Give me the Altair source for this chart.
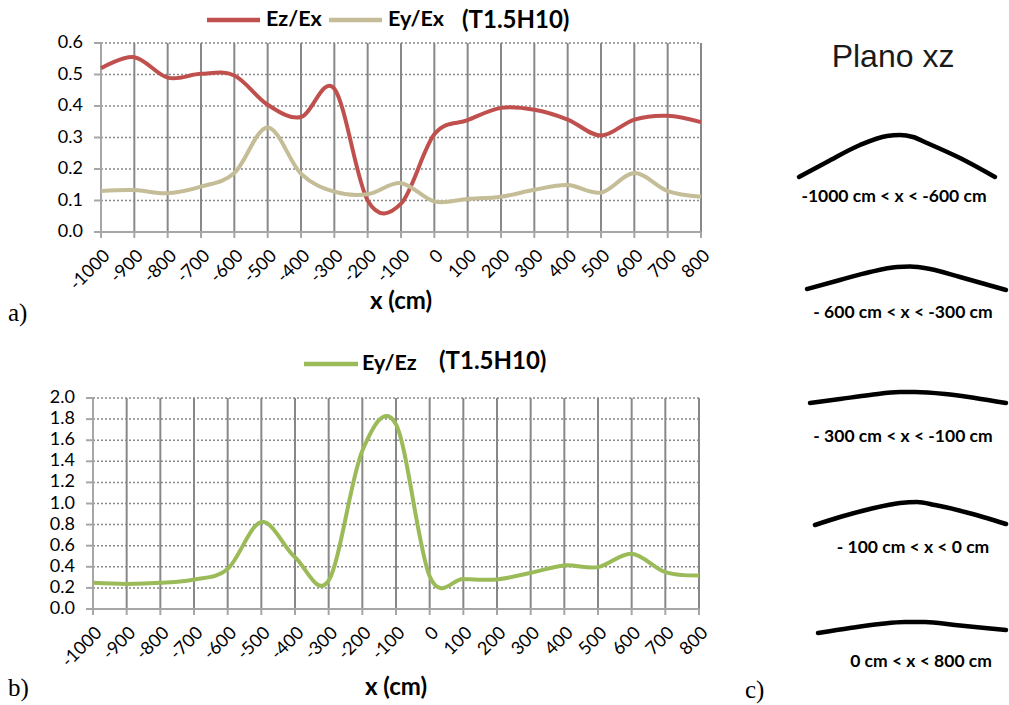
import altair as alt
import pandas as pd

# ---- field ratios along x (cm) ----
x_cm = [-1000, -900, -800, -700, -600, -500, -400, -300, -200, -100,
        0, 100, 200, 300, 400, 500, 600, 700, 800]
ez_ex = [0.52, 0.555, 0.49, 0.502, 0.497, 0.404, 0.365, 0.455, 0.10, 0.09,
         0.31, 0.355, 0.394, 0.388, 0.357, 0.306, 0.357, 0.369, 0.349]
ey_ex = [0.13, 0.133, 0.123, 0.144, 0.187, 0.332, 0.185, 0.128, 0.12, 0.155,
         0.097, 0.105, 0.112, 0.134, 0.149, 0.125, 0.187, 0.13, 0.112]
ey_ez = [0.248, 0.238, 0.248, 0.28, 0.38, 0.825, 0.49, 0.27, 1.5, 1.75,
         0.31, 0.285, 0.28, 0.343, 0.413, 0.397, 0.524, 0.35, 0.317]

series_a = ["Ez/Ex", "Ey/Ex"]
colors_a = ["#C0504D", "#C4BD97"]
series_b = ["Ey/Ez"]
colors_b = ["#9BBB59"]
ticks_a = [0.0, 0.1, 0.2, 0.3, 0.4, 0.5, 0.6]
ticks_b = [0.0, 0.2, 0.4, 0.6, 0.8, 1.0, 1.2, 1.4, 1.6, 1.8, 2.0]
case_tag = "(T1.5H10)"
x_title = "x (cm)"

# ---- "Plano xz" sketch: wire profile per x range (drawing units) ----
plane_title = "Plano xz"
arc_labels = ["-1000 cm < x < -600 cm", "- 600 cm < x < -300 cm",
              "- 300 cm < x < -100 cm", "- 100 cm < x < 0 cm",
              "0 cm < x < 800 cm"]
arc_u = [
    [54, 82, 115, 142, 155, 168, 182, 215, 250],
    [62, 95, 125, 152, 165, 185, 215, 261],
    [65, 95, 125, 155, 170, 200, 230, 261],
    [70, 95, 125, 155, 172, 190, 220, 261],
    [73, 105, 135, 160, 180, 210, 240, 261],
]
arc_v = [
    [134, 119, 102, 93, 92, 94, 100, 115, 134],
    [246, 237, 229, 224, 223.5, 226, 234, 247],
    [360, 356, 352, 349, 349, 351, 355, 360],
    [482, 474, 466, 460, 459, 462, 469, 481],
    [590, 585, 581, 579, 579, 582, 585, 587],
]
label_u = [149, 158, 158, 168, 176]
label_v = [154, 270, 394, 505, 619]

FONT = "Lato"
GRID = "#888888"
AXIS = "#a6a6a6"
W, H = 1009, 705

# pixel frames of the three panels on the page
A_X, A_Y = [101, 701], [232, 43]
B_X, B_Y = [93, 699], [609, 398]
C_X, C_Y = [745, 1007], [43, 698]


def tag(text, px, py, size=24, font=FONT, weight="bold", align="left"):
    return alt.Chart(pd.DataFrame({"t": [text]})).mark_text(
        align=align, baseline="middle", font=font, fontSize=size,
        fontWeight=weight, color="black").encode(
        x=alt.value(px), y=alt.value(py), text="t:N")


def swatch(color, x0, x1, py):
    return alt.Chart(pd.DataFrame({"s": [0]})).mark_rule(
        color=color, strokeWidth=4.5).encode(
        x=alt.value(x0), x2=alt.value(x1), y=alt.value(py))


def panel(df, series, colors, ticks, ymax, px, py):
    """Grid, axes (ticks, labels, lines) and data curves of one ratio plot."""
    xs = alt.Scale(domain=[-1000, 800], range=px, nice=False)
    ys = alt.Scale(domain=[0, ymax], range=py, nice=False)
    left, bottom = px[0], py[0]

    xbase = alt.Chart(pd.DataFrame({"x": x_cm, "lab": [str(v) for v in x_cm]}))
    ybase = alt.Chart(pd.DataFrame({"tick": ticks}))
    one = alt.Chart(pd.DataFrame({"s": [0]}))

    vgrid = xbase.mark_rule(color=GRID, strokeWidth=2).encode(
        x=alt.X("x:Q", scale=xs, axis=None),
        y=alt.Y(datum=0, scale=ys, axis=None), y2=alt.Y2(datum=ymax))
    hgrid = ybase.mark_rule(color=GRID, strokeWidth=1.5, strokeDash=[2, 2]).encode(
        y=alt.Y("tick:Q", scale=ys, axis=None),
        x=alt.X(datum=-1000, scale=xs, axis=None), x2=alt.X2(datum=800))
    xdomain = one.mark_rule(color=AXIS, strokeWidth=2).encode(
        x=alt.X(datum=-1000, scale=xs, axis=None), x2=alt.X2(datum=800),
        y=alt.Y(datum=0, scale=ys, axis=None))
    ydomain = one.mark_rule(color=AXIS, strokeWidth=2).encode(
        x=alt.X(datum=-1000, scale=xs, axis=None),
        y=alt.Y(datum=0, scale=ys, axis=None), y2=alt.Y2(datum=ymax))
    xticks = xbase.mark_rule(color=AXIS, strokeWidth=2).encode(
        x=alt.X("x:Q", scale=xs, axis=None),
        y=alt.value(bottom), y2=alt.value(bottom + 6))
    yticks = ybase.mark_rule(color=AXIS, strokeWidth=2).encode(
        y=alt.Y("tick:Q", scale=ys, axis=None),
        x=alt.value(left - 7), x2=alt.value(left))
    xlabels = xbase.mark_text(angle=315, align="right", baseline="top", font=FONT,
                              fontSize=18, color="black").encode(
        x=alt.X("x:Q", scale=xs, axis=None), y=alt.value(bottom + 15), text="lab:N")
    ylabels = ybase.mark_text(align="right", baseline="middle", font=FONT,
                              fontSize=18, color="black").encode(
        y=alt.Y("tick:Q", scale=ys, axis=None), x=alt.value(left - 18),
        text=alt.Text("tick:Q", format=".1f"))
    lines = alt.Chart(df).mark_line(interpolate="cardinal", strokeWidth=4).encode(
        x=alt.X("x:Q", scale=xs, axis=None),
        y=alt.Y("value:Q", scale=ys, axis=None),
        color=alt.Color("serie:N", scale=alt.Scale(domain=series, range=colors),
                        legend=None))
    return [vgrid, hgrid, xdomain, ydomain, xticks, yticks, xlabels, ylabels, lines]


# ---- panel a ----
df_a = pd.DataFrame({
    "x": x_cm + x_cm,
    "value": ez_ex + ey_ex,
    "serie": [series_a[0]] * len(x_cm) + [series_a[1]] * len(x_cm),
})
layer_a = alt.layer(
    *panel(df_a, series_a, colors_a, ticks_a, 0.6, A_X, A_Y),
    tag(x_title, (A_X[0] + A_X[1]) / 2, 302, align="center"),
    swatch(colors_a[0], 207, 260, 20),
    tag(series_a[0], 266, 20, size=21.5),
    swatch(colors_a[1], 329, 382, 20),
    tag(series_a[1], 388, 20, size=21.5),
    tag(case_tag, 462, 21),
    tag("a)", 8, 313, size=25, font="Liberation Serif", weight="normal"),
)

# ---- panel b ----
df_b = pd.DataFrame({"x": x_cm, "value": ey_ez, "serie": series_b * len(x_cm)})
layer_b = alt.layer(
    *panel(df_b, series_b, colors_b, ticks_b, 2.0, B_X, B_Y),
    tag(x_title, (B_X[0] + B_X[1]) / 2, 688, align="center"),
    swatch(colors_b[0], 304, 358, 364),
    tag(series_b[0], 362, 364, size=21.5),
    tag(case_tag, 439, 362),
    tag("b)", 8, 688, size=25, font="Liberation Serif", weight="normal"),
)

# ---- panel c: wire shape sketch ----
rows = []
for i, (us, vs) in enumerate(zip(arc_u, arc_v)):
    for k, (u, v) in enumerate(zip(us, vs)):
        rows.append({"arc": i, "k": k, "u": u, "v": v})
df_arcs = pd.DataFrame(rows)
cx = alt.Scale(domain=[0, 262], range=C_X, nice=False, zero=False)
cy = alt.Scale(domain=[0, 655], range=C_Y, nice=False, zero=False)

arcs = alt.Chart(df_arcs).mark_line(color="black", strokeWidth=4.5, interpolate="monotone",
                                     strokeCap="round").encode(
    x=alt.X("u:Q", scale=cx, axis=None),
    y=alt.Y("v:Q", scale=cy, axis=None),
    detail="arc:N", order="k:Q")
labels = alt.Chart(pd.DataFrame({"u": label_u, "v": label_v, "t": arc_labels})).mark_text(
    font=FONT, fontSize=17.5, fontWeight="bold", color="black", baseline="middle").encode(
    x=alt.X("u:Q", scale=cx, axis=None), y=alt.Y("v:Q", scale=cy, axis=None), text="t:N")
heading = alt.Chart(pd.DataFrame({"u": [148], "v": [14], "t": [plane_title]})).mark_text(
    font="Liberation Sans", fontSize=32, color="#1a1a1a", baseline="middle").encode(
    x=alt.X("u:Q", scale=cx, axis=None), y=alt.Y("v:Q", scale=cy, axis=None), text="t:N")
c_tag = alt.Chart(pd.DataFrame({"u": [0], "v": [647], "t": ["c)"]})).mark_text(
    font="Liberation Serif", fontSize=25, color="black", align="left", baseline="middle").encode(
    x=alt.X("u:Q", scale=cx, axis=None), y=alt.Y("v:Q", scale=cy, axis=None), text="t:N")
layer_c = alt.layer(arcs, labels, heading, c_tag)

chart = alt.layer(layer_a, layer_b, layer_c).resolve_scale(
    x="independent", y="independent", color="independent"
).properties(
    width=W, height=H, padding=0, background="white",
    autosize=alt.AutoSizeParams(type="none"),
).configure_view(stroke=None)

chart.save("out.html", embed_options={"renderer": "svg", "actions": False})
